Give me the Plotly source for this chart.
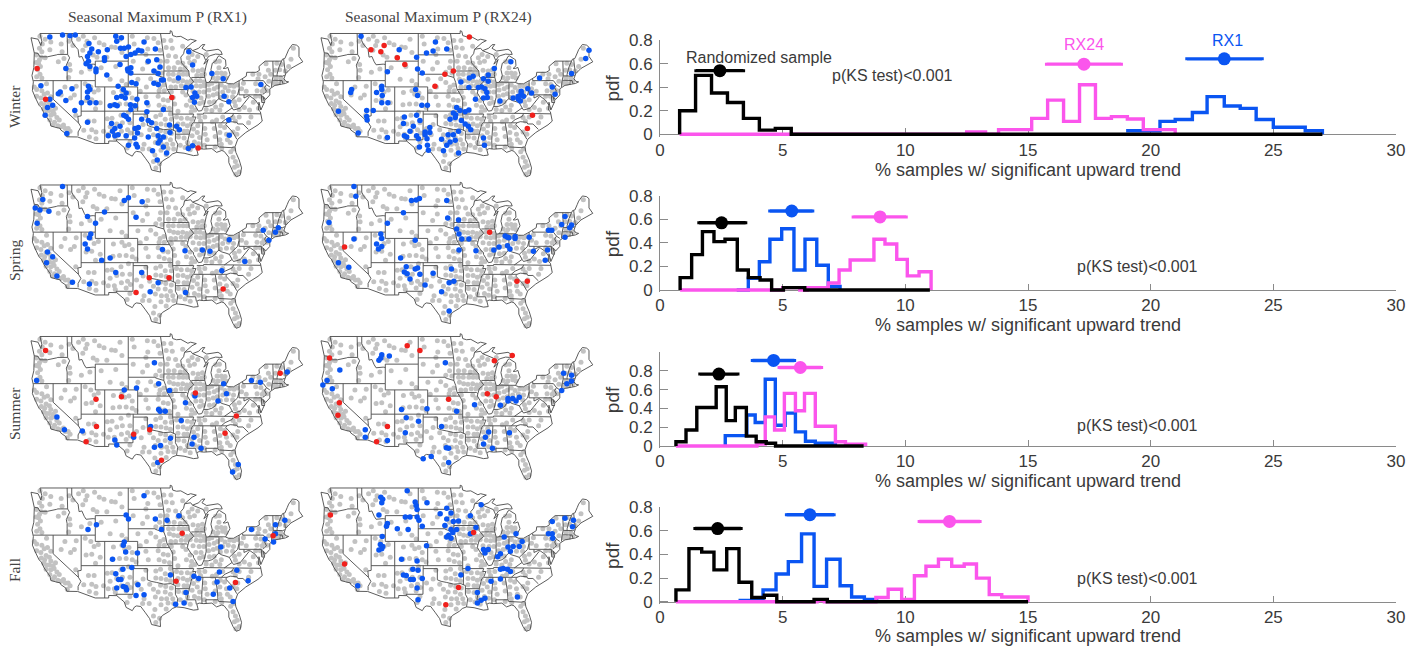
import math
import plotly.graph_objects as go

W, H = 1418, 646
seasons = ["Winter", "Spring", "Summer", "Fall"]
map_titles = ["Seasonal Maximum P (RX1)", "Seasonal Maximum P (RX24)"]
x_title = "% samples w/ significant upward trend"
y_title = "pdf"
x_ticks = [0, 5, 10, 15, 20, 25, 30]
y_ticks = [0, 0.2, 0.4, 0.6, 0.8]
y_tick_labels = ["0", "0.2", "0.4", "0.6", "0.8"]

# ---- base map (lon, lat polylines) ----
us_outline = [(-124.7,48.4),(-123.2,48.2),(-122.6,47.3),(-122.4,47.9),(-122.8,49),(-95.15,49),(-95.15,49.38),(-94.8,49.3),(-94.6,48.7),(-93.8,48.55),(-92.9,48.6),(-92,48.3),(-91.4,48.05),(-90.8,48.2),(-89.6,48.0),(-90.5,47.7),(-92.1,46.75),(-90.8,46.9),(-90.4,46.55),(-89.1,46.9),(-88.4,47.4),(-87.8,47.45),(-88.4,46.9),(-87.4,46.5),(-85.0,46.75),(-84.4,46.5),(-84.1,46.0),(-84.7,46.0),(-85.5,46.05),(-86.5,45.85),(-87,45.7),(-87.6,45.1),(-88,44.55),(-87.4,44.9),(-87.1,45.25),(-87.5,44.4),(-87.9,43),(-87.8,42.5),(-87.5,41.7),(-87,41.7),(-86.5,42.1),(-86.2,42.8),(-86.5,43.7),(-86.2,44.7),(-85.5,45),(-85.0,45.7),(-84.7,45.78),(-83.4,45.2),(-83.3,44.3),(-83.9,43.9),(-83.4,43.9),(-82.9,44.05),(-82.45,43),(-82.9,42.4),(-83.1,42.1),(-83.4,41.7),(-82.7,41.5),(-81.7,41.5),(-80.5,42),(-79,42.7),(-78.9,43.3),(-76.9,43.3),(-76.2,43.6),(-76.3,44.2),(-75,45),(-71.5,45),(-71.3,45.3),(-70.8,45.4),(-70.3,46.2),(-70,46.7),(-69.2,47.45),(-68.3,47.35),(-67.8,47.05),(-67.8,45.7),(-67,44.9),(-68.5,44.3),(-69.5,43.9),(-70.6,43.1),(-70.8,42.6),(-71,42.3),(-70.6,41.9),(-70,41.8),(-70.7,41.55),(-71.5,41.4),(-72.9,41.25),(-74,40.7),(-74,39.7),(-74.9,38.95),(-75.5,39.5),(-75.1,38.6),(-75.9,37.2),(-76.3,38.5),(-76.4,37.2),(-76,36.9),(-75.6,35.3),(-76.5,34.65),(-77.9,33.9),(-79.1,33.3),(-80.8,32.1),(-81.4,30.7),(-81.2,29.7),(-80.5,28.3),(-80.0,26.8),(-80.3,25.4),(-81.1,25.1),(-81.8,26),(-82.7,27.8),(-82.7,28.8),(-83.7,29.9),(-84.2,30.05),(-85.3,29.7),(-86.3,30.4),(-88,30.3),(-89,30.4),(-89.5,30.2),(-89.4,29.8),(-89.2,29.2),(-90.2,29.1),(-91.3,29.4),(-92.2,29.55),(-93.8,29.7),(-94.7,29.4),(-95.3,28.9),(-96.8,28.1),(-97.3,27.5),(-97.2,26),(-99.1,26.4),(-99.5,27.5),(-100.4,28.6),(-101.4,29.77),(-102.3,29.88),(-102.7,29.7),(-103.2,29),(-104.5,29.6),(-104.9,30.6),(-106.5,31.75),(-108.2,31.78),(-108.2,31.33),(-111.07,31.33),(-114.8,32.5),(-117.1,32.53),(-117.3,33.1),(-118.4,33.75),(-118.5,34.03),(-119.2,34.15),(-120.5,34.45),(-120.65,35.15),(-121.9,36.6),(-122.5,37.6),(-123,38),(-123.8,39.3),(-124.4,40.4),(-124.2,41.8),(-124.5,42.8),(-124.1,44),(-124,46.2),(-124.7,48.4)]
state_borders = [
 [(-124,46.25),(-123.2,46.15),(-122.8,45.65),(-121.2,45.65),(-119.3,45.93),(-119,46),(-116.92,46)],
 [(-117.03,49),(-117.04,46.42),(-116.92,46),(-116.5,45.5),(-117.2,44.4),(-117.03,43.8),(-117.03,42)],
 [(-124.2,42),(-111.05,42)],
 [(-120,42),(-120,39),(-114.63,35),(-114.1,34.3),(-114.7,33.4),(-114.7,32.7)],
 [(-114.63,35),(-114.75,36.1),(-114.05,36.2)],
 [(-114.05,42),(-114.05,36.2)],
 [(-114.05,37),(-94.62,37)],
 [(-116.05,49),(-116.05,48),(-115.7,47.5),(-114.7,46.7),(-114.5,45.6),(-113.9,45.7),(-113.4,44.9),(-113,44.45),(-111.5,44.55),(-111.05,44.5)],
 [(-111.05,42),(-111.05,45),(-104.05,45),(-104.05,41),(-111.05,41),(-111.05,42)],
 [(-109.05,41),(-109.05,31.33)],
 [(-104.05,41),(-102.05,41),(-102.05,37)],
 [(-103,37),(-103.05,32),(-106.6,32),(-106.5,31.75)],
 [(-103,36.5),(-100,36.5),(-100,34.56),(-99.2,34.3),(-98,34.1),(-96.5,33.8),(-95,33.9),(-94.48,33.64),(-94.04,33.55),(-94.04,32),(-93.55,31.2),(-93.7,30.3),(-93.8,29.7)],
 [(-94.62,37),(-94.62,36.5),(-94.43,35.4),(-94.48,33.64)],
 [(-94.04,33),(-91.15,33)],
 [(-94.62,36.5),(-90.15,36.5),(-90.37,36),(-89.7,36)],
 [(-94.62,37),(-94.62,39.1),(-95.3,40),(-95.85,40.7),(-96.1,41.7),(-96.5,42.5),(-97.9,42.8),(-98.5,43),(-104.05,43)],
 [(-102.05,40),(-95.3,40)],
 [(-95.77,40.58),(-91.7,40.6),(-91.4,40.4)],
 [(-96.5,42.5),(-96.45,43.5),(-96.45,45.3),(-96.56,45.94),(-97.2,49)],
 [(-96.45,43.5),(-91.2,43.5)],
 [(-104.05,45.94),(-96.56,45.94)],
 [(-104.05,49),(-104.05,45)],
 [(-92.1,46.75),(-92.3,46.1),(-92.9,45.6),(-92.75,44.75),(-91.2,43.5),(-91.1,42.7),(-90.15,41.8),(-91.1,41.2),(-91.4,40.4),(-91.5,40),(-90.7,39),(-90.2,38.7),(-90.2,38.4),(-89.5,37.3),(-89.15,37),(-88.45,37.1),(-88.05,37.8),(-87.1,37.8),(-86.3,38),(-85.7,38.3),(-85.4,38.7),(-84.8,39.1),(-84.2,38.8),(-83.3,38.6),(-82.6,38.4),(-81.8,39),(-81.2,39.4),(-80.85,39.7),(-80.52,40.64),(-80.52,42)],
 [(-90.65,42.5),(-87.8,42.5)],
 [(-90.4,46.55),(-88.1,45.9),(-87.6,45.1)],
 [(-87.52,41.7),(-87.52,39.3),(-87.95,38),(-88.05,37.8)],
 [(-84.8,39.1),(-84.8,41.7)],
 [(-87,41.76),(-84.8,41.76),(-83.4,41.73)],
 [(-79.76,42.27),(-79.76,42),(-75.35,42),(-74.7,41.36),(-75.1,40.9),(-74.7,40.3),(-75.1,40),(-75.5,39.8)],
 [(-74.7,41.36),(-74,41)],
 [(-80.52,40.64),(-80.52,39.72),(-75.79,39.72),(-75.7,38.46),(-75.05,38.46)],
 [(-82.6,38.4),(-82,37.55),(-83.68,36.6)],
 [(-89.5,36.5),(-88.07,36.5),(-88.05,36.68),(-83.68,36.6),(-81.68,36.59),(-75.9,36.55)],
 [(-89.7,36),(-90.1,35.1),(-90.6,34.7),(-91.15,33),(-91.5,31.5),(-91.6,31),(-89.75,31),(-89.6,30.2)],
 [(-90.1,35),(-84.3,35),(-83.5,35.55),(-82,36.1),(-81.68,36.59)],
 [(-88.2,35),(-88.45,31.9),(-88.4,30.3)],
 [(-85.6,35),(-85.15,32.8),(-85,31),(-84.86,30.7),(-82.2,30.57),(-81.5,30.7)],
 [(-87.6,31),(-85,31)],
 [(-87.6,31),(-87.5,30.3)],
 [(-84.3,35),(-83.1,35),(-83.35,34.7),(-81.9,33.4),(-81,32.1)],
 [(-83.1,35),(-82.4,35.2),(-81,35.1),(-80.8,34.8),(-79.7,34.8),(-78.55,33.85)],
 [(-82,37.55),(-81.7,37.2),(-80.3,37.5),(-79.3,38.4),(-78.35,39.4)],
 [(-79.48,39.72),(-79.48,39.2),(-78.4,39.6),(-77.8,39.3),(-77.1,38.9),(-76.3,38)],
 [(-73.35,45),(-73.25,43.6),(-73.27,42.75),(-73.5,42.05),(-73.5,41.3),(-73.65,41)],
 [(-71.5,45),(-72.05,44.1),(-72.45,43),(-72.45,42.73)],
 [(-73.27,42.75),(-71.3,42.7),(-70.8,42.85)],
 [(-73.5,42.05),(-71.8,42.02),(-71.4,42.02),(-71.2,41.5)],
 [(-71.8,42.02),(-71.85,41.3)],
 [(-71.05,45.3),(-70.7,43.1)],
]

# ---- stations (lon, lat) ----
gray_sites = [(-122.8,48.6),(-121.7,48.2),(-120.5,47.8),(-118.3,47.5),(-122.3,47.5),(-122.9,46.9),(-122.4,46.4),(-120.7,46.7),(-118.1,46.4),(-123.5,45.9),(-122.9,45.2),(-123.1,44.7),(-122.7,44.2),(-123.3,43.7),(-122.8,43),(-123.5,42.6),(-122.4,42.4),(-121.7,45.5),(-118.9,44.9),(-117.7,45.4),(-123.6,44.8),(-122.5,45.6),
(-116.6,47.9),(-115.8,47.3),(-114.6,48.2),(-113.6,48.6),(-112.8,47.9),(-113.1,47.3),(-111.2,48.4),(-110.2,47.7),(-109.2,47.4),(-107.6,47.1),(-106.8,47),(-113.7,46.6),(-111.5,45.9),(-110.7,45.6),(-108.6,45.6),(-105.4,46.3),(-105.8,48.2),(-116.5,44.5),(-116.4,43.6),(-114,43.3),(-112.2,43.8),(-116.7,42.5),
(-109.8,44),(-106.7,44.2),(-107.9,42.2),(-105.4,42),(-104.5,41.4),(-107.2,40.1),(-105.4,40.4),(-104.8,39.8),(-103.9,40),(-103.2,39.2),(-107.3,38.1),(-105.9,38.2),(-104.5,38.2),(-103.2,38),(-102.4,37.6),
(-103.2,48.6),(-100,48.4),(-98.6,48.3),(-97.7,47.7),(-102.8,47.5),(-99.9,46.8),(-97.3,46.6),(-100.3,46),(-103,45),(-100,44.8),(-97.2,45),(-101,43.8),(-97.4,44),(-96.9,43.2),(-98.2,43.3),(-102,42.2),(-99.3,42.3),(-98.2,41.7),(-97.3,41),(-96.5,41.3),(-100.2,41),(-97.5,40.4),(-96.4,40.4),(-101.5,40.3),
(-100.3,39.4),(-97.7,39.5),(-96.6,38.9),(-95.6,38.8),(-99.8,38),(-97.5,38),(-96.4,37.7),(-95.3,37.5),(-100.3,36.2),(-98.2,36.1),(-97.2,36.4),(-96.2,35.6),(-95.1,36.5),(-98.2,34.9),(-97.1,34.8),(-96,34.6),(-95.1,34.4),(-94.9,35.6),
(-100.9,34.7),(-102.3,34),(-99.5,33.8),(-97.2,33.6),(-96.1,33.4),(-94.9,33.1),(-101.3,32.9),(-98.7,32.9),(-97.7,32.4),(-96.2,32.4),(-95.1,32),(-103.7,31.6),(-100.7,31.2),(-98.3,31.5),(-97,31.2),(-95.9,31.2),(-94.6,31.2),(-104.3,30.5),(-101,30.3),(-99.6,30.3),(-97.1,30.1),(-95.6,30.4),(-94.4,30.3),(-98.4,29.2),(-96,29.3),(-98.7,28),(-97.4,27.6),(-98.2,26.8),
(-124,41),(-123.5,40.6),(-122.4,40.4),(-121.4,41.5),(-123.5,39.5),(-122.6,39.2),(-121.9,39.8),(-121.2,40),(-120.5,39.4),(-122.5,38.3),(-121.8,38),(-121.5,38.7),(-120.8,38.4),(-120.5,37.8),(-122,37.4),(-121.4,37.1),(-120.8,37.1),(-120,37),(-119.5,37.5),(-121.5,36.4),(-120.5,36.3),(-119.8,36.5),(-119.2,35.9),(-120.7,35.5),(-119.7,35.1),(-118.7,35.5),(-120,34.7),(-119,34.5),(-118.3,34.3),(-117.8,34.6),(-117.4,34),(-116.8,34),(-116.4,33.5),(-117,32.9),(-118.3,39.7),(-116.3,39.2),(-115.5,39.7),(-117.5,41),(-115.1,41.1),(-115.2,36.3),(-113.2,41.5),(-112,41),(-111.3,40.2),(-110.4,40.5),(-113,38.8),(-111.8,38.9),(-110,38.4),(-111,37.4),(-112.5,35.3),(-111.3,35.3),(-113.5,33.7),(-111.8,33.8),(-110.9,33.4),(-112.3,32.5),(-110.9,32.2),(-109.3,33.5),(-108.5,35.7),(-107.5,35.8),(-105.6,36.3),(-104,36.8),(-103.7,35),(-107.9,34.3),(-106.5,34.8),(-105.3,35),(-108.3,33),(-107,33),(-105.5,33.5),(-104.2,33.8),(-106.8,32.3),(-104.5,32.6),(-103.6,33.2),
(-96.5,48),(-95,48),(-96,47),(-94.7,46.9),(-92.5,47.2),(-95.5,45.8),(-94,45.7),(-95.8,45),(-93.5,44.8),(-92.5,44.7),(-95.5,44),(-94.3,44),(-93,43.8),(-92,44),(-91.3,45.5),(-90.5,46),(-91,44.8),(-90,45),(-89.3,45.7),(-90.3,43.6),(-89.2,43.5),(-88.3,43.7),(-89.5,42.8),(-88.5,42.9),(-87.9,43),(-87.5,46),(-85.5,44.9),(-84.7,45),(-84.8,44),(-85.2,43.2),(-84.3,43.2),(-83.5,43.1),(-86,42.5),(-85,42.4),(-84,42.6),(-83.3,42.4),(-85.4,41.9),
(-95.5,43),(-94.5,43),(-93.3,43),(-92.4,43),(-91.6,43),(-95.3,42.2),(-94.4,42),(-93.5,41.9),(-92.5,42),(-91.6,41.8),(-90.7,42),(-95,41),(-94,41),(-92.8,41.2),(-91.8,41.2),(-90.9,41.3),(-94.9,40.2),(-92.5,40.2),(-94.5,39.3),(-91.8,39.7),(-90.9,38.8),(-94.2,38.2),(-91.7,38),(-90.6,37.7),(-93.5,37),(-90.7,36.9),(-89.9,37.2),(-89.7,42),(-88.8,42),(-88,41.8),(-89.6,41.2),(-88.7,41.1),(-87.9,41.2),(-90.3,40.3),(-89,40.2),(-88,40.2),(-89.7,39.2),(-88.6,39.2),(-88.9,38.3),(-88.1,38.5),(-87,41.4),(-86.3,41.6),(-86.9,40.5),(-85.8,40.7),(-85.1,41),(-87,39.5),(-86,39.7),(-85.2,39.9),(-86.8,38.5),(-85.8,38.6),(-84.3,41.3),(-83.5,40.9),(-82.5,41.2),(-81.6,41.1),(-80.9,41.3),(-84,40.2),(-82.8,40.4),(-81.7,40.2),(-84.5,39.3),(-83.2,39.4),(-81.9,39.4),
(-69,46.9),(-69.5,45.3),(-70,44.2),(-71.5,44.5),(-70.7,43.5),(-72.5,44.7),(-72.8,43.6),(-71.9,43.7),(-71.7,42.4),(-72.7,42.4),(-71.2,42),(-72.5,41.6),(-73.2,41.6),(-74.8,44.6),(-74.3,43.6),(-73.8,43),(-76.3,43),(-77.6,43),(-75,42.6),(-76.5,42.3),(-74.2,41.9),(-79.6,41.6),(-77,41.5),(-75.9,41.4),(-75.2,40.8),(-80,40.7),(-79,40.3),(-76.7,40.4),(-75.6,40.3),(-74.6,40.4),(-77,39.5),(-76,39.5),(-75.4,39),
(-81.5,38.6),(-80.5,38.9),(-81.3,37.9),(-80.5,37.3),(-79.4,37.6),(-77.5,38.5),(-78.3,37.2),(-76.4,37.5),(-85.5,37.7),(-84.3,38),(-87.5,37.3),(-86.3,37.1),(-84.6,37.2),(-89,36),(-87.8,36),(-85.3,35.5),(-84,36),(-88.7,35.3),(-86.2,35.2),(-81.8,35.9),(-80.5,36),(-78,36),(-81.3,35.3),(-78.5,35),(-93.8,36),(-92.8,35.8),(-91.5,35.8),(-90.6,35.6),(-93.5,34.8),(-92.4,34.8),(-91.5,34.5),(-90.7,34.8),(-93.5,33.7),(-92.2,33.5),(-91.5,33.5),(-93.4,32.5),(-92.2,32.3),(-91.5,31.5),(-93,31),(-92,30.6),(-90.9,30.2),(-90.2,33.9),(-89.3,34.5),(-90.5,32.7),(-89.4,33.3),(-88.9,32.4),(-90,31.6),(-89.1,31.3),(-87.8,34),(-85.8,34),(-87.7,33),(-85.6,32.6),(-87.3,32),(-87.9,31),(-84.5,34.5),(-83.6,34.2),(-84.6,33.3),(-83.2,33),(-84.6,32),(-83,32),(-84.3,31.2),(-82.4,31.5),(-81.8,33.4),(-80.8,34),(-81,33),(-85.6,30.7),(-84.2,30.5),(-82.3,29.8),(-81.7,30.3),(-81.8,28.8),(-81.3,28),(-80.9,27.2),(-81.5,26.9),(-80.5,26),(-81.2,25.6)]

winter_rx1_up = [(-120.7,48.5),(-118,48.8),(-116.4,48.7),(-115.3,48.8),(-112.4,47.6),(-106.7,48.6),(-106.5,47.9),(-105.5,48.4),(-100.7,47.8),(-111.8,46.8),(-112.2,46.2),(-110.4,46.4),(-108.5,46.7),(-105.7,46.9),(-104.9,46.9),(-104,47.1),(-98.3,46.8),(-101.9,46.6),(-101.2,46.5),(-102.6,46.2),(-103.5,46),(-104.5,45.7),(-112.7,45.7),(-112.5,45),(-113,44.6),(-112.2,44.2),(-117.3,43.9),(-109.1,45.5),(-109.1,45.1),(-105.8,44.5),(-110.9,43.8),(-110.9,43.4),(-108.6,42.9),(-104.2,43.8),(-103.5,44),(-103.5,43.2),(-104.1,43.5),(-99.8,45),(-98,45.2),(-97.3,44.1),(-98.6,43.5),(-97.7,43.1),(-97,42.1),(-103.3,41.7),(-102.4,41.5),(-98.6,41.6),(-97.7,41.4),(-96.6,42.1),(-93.4,42.4),(-91.2,46.4),(-90.4,44.4),(-86.3,43.1),(-83.9,42.3),(-75.9,41.4),(-91.8,40.9),(-90.7,41),(-89.9,40),(-90.4,39.3),(-89.5,39.5),(-90,38.5),(-122.6,41.2),(-118.5,40.2),(-118.9,39.9),(-116,40.7),(-112.5,41.1),(-112.2,40.6),(-112.7,40.2),(-112.7,39.3),(-112.2,38.4),(-110.9,38.4),(-114,38.4),(-117.3,38.8),(-115.4,37.1),(-120.7,39),(-120.1,38),(-121.2,37.6),(-121.7,36.3),(-117.1,33.1),(-112.7,35.1),(-106.2,41.1),(-105.1,40.6),(-104.5,40),(-105.5,39.5),(-104.7,39.2),(-106.5,39.3),(-107.9,37.9),(-106.9,38.1),(-106.4,37.9),(-103.6,38.1),(-103.5,37.3),(-102.6,37.9),(-102.2,39),(-100.1,38.4),(-100.1,36.9),(-96.6,37.3),(-105,36.3),(-104.5,36.1),(-104,35.6),(-107.6,34.9),(-105.8,34.4),(-106.9,34),(-107.4,33.5),(-108.3,32.7),(-106.9,32.7),(-106.2,32.9),(-104.5,32.7),(-102.6,34),(-101.9,34.2),(-102.1,33.2),(-102.7,32.3),(-104,31),(-102.4,31.2),(-102.1,30.7),(-101.2,35.6),(-99.8,35.4),(-99.1,35),(-98,34),(-95.3,34.6),(-93.8,34.4),(-93.2,33.8),(-95.2,33.3),(-97.7,32.7),(-96.6,32.5),(-97.3,31.9),(-97.7,31.4),(-99.8,32.5),(-96.6,30.7),(-98.9,30),(-95.9,29.6),(-97.9,28.3),(-91.3,30.4),(-90.4,30.9),(-83.7,39.5),(-82.7,38.6),(-82.7,35.5),(-82.6,32.8)]
winter_rx1_down = [(-123.4,43.9),(-121.6,39),(-94.8,39.3),(-89.2,30.5)]
winter_rx24_up = [(-116.2,48.6),(-100.4,47.8),(-100.9,46.5),(-102.3,46.2),(-98,46.8),(-108.1,46.7),(-104.4,45.6),(-110.6,43.4),(-104.2,43.8),(-103.2,43.2),(-67.8,46.6),(-68.5,45.4),(-84.4,44.9),(-87.9,43.9),(-89.2,42.9),(-90.2,42.3),(-92.4,42.7),(-93.2,42.4),(-95,41.8),(-89.2,41.9),(-71.5,43.1),(-78.3,42.4),(-75.6,41),(-80.8,40.7),(-82.2,40.3),(-80,40),(-82.2,39.9),(-82.8,39.5),(-83.9,39.2),(-81.7,39.5),(-82.8,39),(-82.4,38.7),(-75,39.8),(-86.7,38.7),(-91.3,40.9),(-90.6,41),(-89.9,40.7),(-93.3,40.9),(-89.5,40.1),(-90.2,39.2),(-89.4,39.3),(-91.9,39),(-111.8,41.1),(-111.8,40.6),(-112.9,40.1),(-111.7,39.6),(-111.8,38.4),(-110.5,38.4),(-118.2,40.6),(-118.4,40.1),(-104.6,40.6),(-104.2,39.6),(-103.3,38),(-102.1,38),(-121,37),(-115,37.1),(-113.6,37.1),(-115,36.1),(-114.9,35.5),(-116.8,33.2),(-110.6,32.4),(-107,36),(-107.2,34.9),(-104.4,36.3),(-103.7,35.4),(-105.1,34.4),(-105.8,33.5),(-107,32.7),(-106.5,32.5),(-104.4,32.7),(-104,32.2),(-103.8,30.7),(-102.6,33.4),(-102.6,32.9),(-101.6,34.2),(-101.6,33.3),(-102.2,32.2),(-102.1,31),(-101.9,30.1),(-95.9,37.6),(-96.6,36.7),(-96.1,36.4),(-95.2,37.1),(-94.1,36.9),(-93.3,37.2),(-97.3,35.6),(-96.2,35.9),(-94.9,35.4),(-94.1,34.8),(-93.4,34.4),(-92.9,33.8),(-95.5,33.5),(-97.7,32.9),(-96.6,32.9),(-99.1,32.1),(-97.3,31.6),(-98,31),(-96.2,31.9),(-98.7,30),(-95.5,29.6),(-90.2,32.3),(-90,31)]
winter_rx24_down = [(-114.1,46.7),(-112,46.4),(-111.3,47.3),(-108.5,45.5),(-106.9,44.5),(-98.4,43),(-96.6,43.5),(-100.5,41.1),(-93.2,48.5),(-79.8,36.3),(-80.9,34)]
spring_rx1_up = [(-118,48.8),(-122.2,46.95),(-123.8,45.7),(-122.8,45.4),(-120.9,45.2),(-123.4,43.4),(-112.7,44.4),(-109.1,45.1),(-111,43.4),(-104.9,46.8),(-104,47.2),(-101.1,46.6),(-102.4,44.3),(-112,41.7),(-112.3,41.1),(-113.2,40.1),(-112.7,39.3),(-121.2,38.8),(-120.1,38),(-121.4,37),(-119.2,34.7),(-115.9,33.6),(-112.3,33.3),(-109.7,37.4),(-107.9,37.8),(-106.7,35.3),(-101.2,35.3),(-96.8,39.2),(-92,39),(-88.3,39.1),(-86.7,38.9),(-82.6,40.8),(-79.3,37.2),(-84.2,35.6),(-97.7,33.5),(-99.4,31.9),(-91.9,31.8),(-75.4,42.3),(-72.2,42.7),(-72.8,42),(-74.2,40.7)]
spring_rx1_down = [(-99.6,34.4),(-95.4,34.4),(-102.4,31.8),(-83.9,32.4)]
spring_rx24_up = [(-117.7,48.8),(-117.3,47.4),(-123,43.5),(-110.6,43.4),(-107.2,45),(-105.5,46.8),(-104.5,46.85),(-103.8,47.1),(-98,46.8),(-97.8,44.2),(-95.5,43.9),(-95.9,42.5),(-112,41.7),(-111.8,41),(-117.7,40.9),(-112.9,40.1),(-111.8,39.7),(-112.5,39.3),(-121,37),(-118.8,36.2),(-104.7,40.7),(-107.8,37.8),(-106.6,36.3),(-107,35.4),(-106.4,35.1),(-104.7,35.9),(-104.2,36.1),(-103.7,35),(-105.8,34.2),(-102.6,33.1),(-100.9,35.2),(-97,35.9),(-97.5,33.5),(-96.5,33.8),(-99.1,31.9),(-97.5,28.4),(-95.4,41.7),(-94.8,40.9),(-93.3,40.9),(-95.4,39.1),(-91.8,39),(-88,39.1),(-86.9,39.6),(-85.1,39.8),(-84.6,39.3),(-85.6,41.4),(-85.1,41.2),(-84.8,41.1),(-83.5,41.3),(-83.5,41),(-80.5,41.2),(-76.4,42.3),(-75.7,42.3),(-79.6,38.9),(-77.1,37.4),(-76.6,39.1),(-73.6,43.2),(-72.9,44.4),(-71.5,43.1),(-71.9,42.7),(-72.9,41.2)]
spring_rx24_down = [(-119.7,39.6),(-88.9,42),(-83.1,33.8),(-80.9,33.8)]
summer_rx1_up = [(-123.5,42.5),(-98.5,45.2),(-97.6,42),(-102.3,41.3),(-104.9,41),(-95.3,40.9),(-91.9,38.9),(-89.9,40),(-97.6,37.8),(-97.3,37.5),(-96.2,37.5),(-92.8,35.9),(-99.3,34.9),(-119.2,36.5),(-117.6,34.3),(-113.8,34.1),(-106.9,32.5),(-106.5,31.6),(-102.9,33),(-95.1,32.8),(-98.5,31.2),(-97.2,31.5),(-97.8,28.4),(-90.1,33),(-90.5,31.8),(-88.6,31),(-83.8,42),(-83.2,40.4),(-85,39.2),(-77.9,42.5),(-76,42.2),(-70.3,43.8),(-81.9,26.6),(-80.7,28)]
summer_rx1_down = [(-121.6,47),(-110.9,39.5),(-105.5,39.9),(-110.8,34.9),(-113,32.2),(-102.9,33.5),(-99.5,34.3),(-97,28.8),(-89.8,40.5),(-81.1,36.7),(-83.5,33.7),(-71.8,43.6)]
summer_rx24_up = [(-111.8,46.4),(-112,45.9),(-112.4,45.6),(-110.2,46.2),(-120.7,44.1),(-123.4,42.5),(-124.3,41.8),(-122.3,41.2),(-98.3,45.2),(-107.6,37.8),(-102.2,37.9),(-106.6,36.4),(-104,35.8),(-106.8,33.8),(-115.3,34.3),(-115.3,33),(-110.6,32.4),(-99.1,34.9),(-95.9,37.5),(-92.1,38.6),(-98.1,31.1),(-97.6,31),(-101.3,29.5),(-103,29.1),(-97.6,28.4),(-89.8,33),(-89.1,33.9),(-90.2,31.8),(-88.3,31),(-84.7,33.8),(-86.6,38.5),(-85,39.2),(-85,39.6),(-84,39.6),(-83.3,39.2),(-82.6,39.8),(-73.2,43.6),(-71.5,43.3),(-72.5,42),(-71.5,42.4),(-73.6,40.9)]
summer_rx24_down = [(-106.4,47.7),(-103.7,47),(-122.9,45.9),(-120.8,38.9),(-121.1,36.8),(-110.6,34.9),(-112.9,32.2),(-97.6,39.5),(-89.4,40.4),(-87.5,39.9),(-87.9,45.5),(-84.1,46.3)]
fall_rx1_up = [(-100.7,47.9),(-93.3,45),(-95.8,44.3),(-98.3,44.5),(-104.5,45.1),(-104,44.5),(-110.8,43.6),(-112.6,42.9),(-97,42.9),(-104.9,40.9),(-105.1,40.4),(-104.6,39.3),(-102.1,39.1),(-107.4,38.1),(-77.9,42.9),(-72.8,43.6),(-70.8,44.3),(-72.8,42.2),(-75,41.4),(-73.2,40.9),(-84.4,40.1),(-103.3,36.7),(-105.2,36.4),(-106.7,35.6),(-106.1,34.6),(-105.6,34.6),(-105.1,33.4),(-102,33.7),(-106.5,33.1),(-104.6,33.2),(-104.4,32.8),(-102.4,31.8),(-100.7,31.9),(-95.1,35.4),(-90.1,35.2),(-89.1,34.8),(-84.7,35.9),(-81,36.2),(-85.2,34.2),(-82.5,33.1),(-86,32),(-78.6,34.4),(-81.8,30.7),(-91.8,32.3),(-92.2,30.4),(-94,30.2)]
fall_rx1_down = [(-92.6,42.3),(-93.9,34.3),(-81.3,34.1),(-73.3,41.9)]
fall_rx24_up = [(-106.4,48.6),(-112,47.7),(-111.6,47.4),(-111.8,46.9),(-104.7,47),(-104.5,46.5),(-104.3,45.9),(-102.2,46.9),(-98,46.1),(-99.4,45.3),(-97.1,45.4),(-98,44.5),(-96.6,44.1),(-95.5,44.2),(-93,45),(-90.7,46.6),(-112.4,45.1),(-106.8,44.8),(-105.8,44.8),(-104.3,44.8),(-103.9,44.3),(-103.2,43.4),(-110.6,43.8),(-110.8,43.4),(-108.5,43),(-106.2,42.9),(-98.4,43.5),(-97.1,42.9),(-95.9,42.9),(-96.7,42.4),(-97.6,42),(-98,41.7),(-97.1,41.5),(-93,42.2),(-91.8,43.2),(-111.7,41.8),(-112.1,40.5),(-111.6,40.2),(-111.8,39.8),(-112.4,39.6),(-102.3,40.3),(-107.6,38.1),(-104.3,37.8),(-105.2,36.4),(-104.1,36.2),(-107.2,35.4),(-106.6,35.3),(-105.7,34.6),(-105.1,34.6),(-103.2,34.8),(-104.3,33.1),(-104.1,31),(-116.9,33.5),(-95,35.4),(-93.5,36.5),(-90.2,39.7),(-89.9,39.1),(-89.2,39.7),(-86.6,39),(-85,40.1),(-83.9,40.2),(-82.6,40.2),(-82,41),(-83.3,42.2),(-85.8,41.7),(-87.2,38.5),(-84.5,39.4),(-86.6,36.4),(-86,36.5),(-85.1,36.4),(-84.5,36),(-88.6,34.3),(-86.6,34.7),(-83,31.5),(-91.5,32.3),(-91.5,30.4),(-90.7,30.9),(-89.9,31.3),(-76.4,42.2),(-75.6,42.2),(-75.5,41.5),(-75.6,44.1),(-72.9,44.6),(-71.1,44.3),(-71.3,43.3)]
fall_rx24_down = [(-122.7,45.1),(-119.7,37.3),(-95.5,33.2),(-98.2,30.1),(-92.3,42.4)]

map_panels = [
 [(winter_rx1_up, winter_rx1_down), (winter_rx24_up, winter_rx24_down)],
 [(spring_rx1_up, spring_rx1_down), (spring_rx24_up, spring_rx24_down)],
 [(summer_rx1_up, summer_rx1_down), (summer_rx24_up, summer_rx24_down)],
 [(fall_rx1_up, fall_rx1_down), (fall_rx24_up, fall_rx24_down)],
]

# ---- histograms: bin left edges, pdf of that bin ----
winter_rand_x = [0.8,0.8,1.45,2.1,2.75,3.4,4.05,4.7,5.35,27]
winter_rand_y = [0,0.2,0.5,0.35,0.27,0.135,0.035,0.05,0,0]
winter_rx1_x = [19,20.38,21,21.7,22.3,23,23.65,24.3,25,26.3,27,27]
winter_rx1_y = [0.03,0.11,0.125,0.185,0.32,0.24,0.22,0.125,0.06,0.03,0,0]
winter_rx24_x = [0.8,12.5,13.27,13.8,15.15,15.8,16.45,17.1,17.75,18.4,19.05,19.7,20.35,21,21]
winter_rx24_y = [0,0.02,0,0.04,0.135,0.29,0.11,0.42,0.135,0.15,0.13,0.04,0.04,0,0]
spring_rand_x = [0.82,0.82,1.29,1.73,2.2,2.65,3.15,3.6,4.08,4.55,5.03,5.9,11]
spring_rand_y = [0,0.105,0.3,0.495,0.41,0.43,0.17,0.105,0.085,0,0.02,0,0]
spring_rx1_x = [3.125,3.6,4.05,4.48,4.96,5.46,5.91,6.39,6.86,7.34,7.34]
spring_rx1_y = [0,0.1,0.24,0.43,0.52,0.17,0.43,0.21,0.03,0,0]
spring_rx24_x = [0.82,5,5.7,6,6.86,7.3,7.75,8.72,9.17,9.65,10.08,10.56,11.05,11.05]
spring_rx24_y = [0,0.02,0,0.02,0.06,0.17,0.255,0.43,0.39,0.26,0.12,0.155,0,0]
summer_rand_x = [0.65,0.65,1.06,1.5,2.29,2.7,3.07,3.52,3.92,4.33,4.71,8.3]
summer_rand_y = [0,0.045,0.17,0.41,0.63,0.27,0.41,0.105,0.045,0.03,0,0]
summer_rx1_x = [2.66,2.66,3.54,3.88,4.29,4.7,5.1,5.52,5.93,6.33,7.15,7.15]
summer_rx1_y = [0,0.11,0.33,0.25,0.71,0.22,0.35,0.15,0.05,0.03,0,0]
summer_rx24_x = [0.65,3.95,4.29,4.67,5.07,5.52,5.89,6.33,7.15,7.56,8.38,8.38]
summer_rx24_y = [0,0.02,0.31,0.17,0.56,0.375,0.56,0.21,0.045,0.02,0,0]
fall_rand_x = [0.65,0.65,1.18,1.7,2.2,2.72,3.22,3.74,4.25,4.76,6.28,6.82,15]
fall_rand_y = [0,0.1,0.45,0.42,0.27,0.45,0.165,0.035,0.055,0,0.02,0,0]
fall_rx1_x = [3.2,4.2,4.73,5.23,5.77,6.28,6.79,7.34,7.81,8.33,8.83,8.83]
fall_rx1_y = [0.01,0.1,0.235,0.34,0.575,0.13,0.36,0.135,0.04,0.02,0,0]
fall_rx24_x = [0.65,6.4,6.7,8.8,9.3,9.85,10.37,10.84,11.35,11.89,12.4,12.9,13.42,13.93,15,15]
fall_rx24_y = [0,0.01,0,0.035,0.105,0.02,0.22,0.3,0.36,0.3,0.32,0.2,0.06,0.04,0,0]

hist_series = [
 [(winter_rx1_x, winter_rx1_y), (winter_rx24_x, winter_rx24_y), (winter_rand_x, winter_rand_y)],
 [(spring_rx1_x, spring_rx1_y), (spring_rx24_x, spring_rx24_y), (spring_rand_x, spring_rand_y)],
 [(summer_rx1_x, summer_rx1_y), (summer_rx24_x, summer_rx24_y), (summer_rand_x, summer_rand_y)],
 [(fall_rx1_x, fall_rx1_y), (fall_rx24_x, fall_rx24_y), (fall_rand_x, fall_rand_y)],
]
# mean, low, high, height for RX1, RX24, randomized sample
mean_bars = [
 [(23.0,21.48,24.54,0.64),(17.28,15.76,18.8,0.595),(2.44,1.47,3.4,0.54)],
 [(5.37,4.48,6.22,0.67),(8.97,7.88,10.03,0.62),(2.51,1.59,3.49,0.57)],
 [(4.63,3.77,5.48,0.91),(5.72,4.86,6.58,0.835),(2.4,1.63,3.17,0.765)],
 [(6.11,5.16,7.09,0.737),(11.8,10.57,13.04,0.68),(2.35,1.43,3.3,0.62)],
]

BLUE = "#0a55f2"
MAGENTA = "#fb55ec"
BLACK = "#000000"
RED = "#f0201c"
GRAY = "#c2c2c2"
TXT = "#3a3a3a"
AXC = "#8a8a8a"
series_colors = [BLUE, MAGENTA, BLACK]

def merc(lat):
    return math.degrees(math.log(math.tan(math.pi / 4 + math.radians(lat) / 2)))

PX_PER_DEG = 4.71
LON0, LON1 = -126.0, -66.0
LAT0, LAT1 = 24.5, 49.7
row_tops = [33.5, 185.0, 336.5, 488.0]
col_coast = [31.0, 321.0]

fig = go.Figure()
layout = {}
ax_i = 0

def new_axes(x0, x1, y0, y1, x_position=None, **kw):
    global ax_i
    ax_i += 1
    s = "" if ax_i == 1 else str(ax_i)
    if x_position is None:
        layout["xaxis" + s] = dict(domain=[x0 / W, x1 / W], anchor="y" + s, **kw.get("x", {}))
    else:
        layout["xaxis" + s] = dict(domain=[x0 / W, x1 / W], anchor="free", position=x_position, **kw.get("x", {}))
    layout["yaxis" + s] = dict(domain=[1 - y1 / H, 1 - y0 / H], anchor="x" + s, **kw.get("y", {}))
    return "x" + s, "y" + s

line_lon, line_lat = [], []
for poly in [us_outline] + state_borders:
    line_lon += [p[0] for p in poly] + [None]
    line_lat += [merc(p[1]) for p in poly] + [None]

hidden = dict(visible=False, showgrid=False, zeroline=False, fixedrange=True)
for r in range(4):
    for c in range(2):
        left = col_coast[c] - (-124.7 - LON0) * PX_PER_DEG
        right = left + (LON1 - LON0) * PX_PER_DEG
        top = row_tops[r] - (merc(LAT1) - merc(49)) * PX_PER_DEG
        bottom = top + (merc(LAT1) - merc(LAT0)) * PX_PER_DEG
        xa, ya = new_axes(left, right, top, bottom,
                          x=dict(range=[LON0, LON1], **hidden),
                          y=dict(range=[merc(LAT0), merc(LAT1)], **hidden))
        fig.add_trace(go.Scatter(x=[p[0] for p in gray_sites], y=[merc(p[1]) for p in gray_sites],
                                 mode="markers", marker=dict(size=5, color=GRAY), xaxis=xa, yaxis=ya,
                                 showlegend=False, hoverinfo="skip"))
        fig.add_trace(go.Scatter(x=line_lon, y=line_lat, mode="lines",
                                 line=dict(color="#4a4a4a", width=0.9), xaxis=xa, yaxis=ya,
                                 showlegend=False, hoverinfo="skip"))
        up, down = map_panels[r][c]
        for pts, col in ((up, BLUE), (down, RED)):
            fig.add_trace(go.Scatter(x=[p[0] for p in pts], y=[merc(p[1]) for p in pts],
                                     mode="markers", marker=dict(size=5.5, color=col), xaxis=xa, yaxis=ya,
                                     showlegend=False))

hist_base = [134.3, 290.0, 446.0, 601.7]
hist_top = [40.0, 195.7, 352.0, 507.3]
hist_ymax = [0.8, 0.8, 1.0, 0.8]
Y_PAD = 0.02  # room under 0 so the thick baselines are not clipped by the plot area
for r in range(4):
    px_unit = (hist_base[r] - hist_top[r]) / hist_ymax[r]
    xa, ya = new_axes(660, 1396, hist_top[r], hist_base[r] + Y_PAD * px_unit,
        x_position=1 - hist_base[r] / H,
        x=dict(range=[0, 30], tickvals=x_ticks, ticks="inside", ticklen=6, tickcolor=AXC, showgrid=False,
               zeroline=False, showline=True, linecolor=AXC, linewidth=1, layer="below traces",
               tickfont=dict(family="Liberation Sans", size=17, color=TXT),
               title=dict(text=x_title, standoff=0, font=dict(family="Liberation Sans", size=18, color=TXT))),
        y=dict(range=[-Y_PAD, hist_ymax[r]], tickvals=y_ticks, ticktext=y_tick_labels, ticks="inside", ticklen=8,
               tickcolor=AXC, showgrid=False, zeroline=False, showline=True, linecolor=AXC, linewidth=1,
               ticklabelstandoff=3, layer="below traces",
               tickfont=dict(family="Liberation Sans", size=17, color=TXT),
               title=dict(text=y_title, standoff=4, font=dict(family="Liberation Sans", size=19, color=TXT))))
    for (xs, ys), col in zip(hist_series[r], series_colors):
        fig.add_trace(go.Scatter(x=xs, y=ys, mode="lines", line=dict(color=col, width=3.4, shape="hv"),
                                 xaxis=xa, yaxis=ya, showlegend=False, cliponaxis=False))
    for (m, lo, hi, h), col in zip(mean_bars[r], series_colors):
        fig.add_trace(go.Scatter(x=[m], y=[h], mode="markers", marker=dict(size=13, color=col),
                                 error_x=dict(type="data", symmetric=False, array=[hi - m], arrayminus=[m - lo],
                                              thickness=3.4, width=1.5, color=col),
                                 xaxis=xa, yaxis=ya, showlegend=False, cliponaxis=False))

def note(text, x, y, size=16, color=TXT, family="Liberation Sans", angle=0):
    return dict(text=text, x=x / W, y=1 - y / H, xref="paper", yref="paper", xanchor="center", yanchor="middle",
                showarrow=False, textangle=angle, font=dict(family=family, size=size, color=color))

anns = [note(map_titles[0], 157, 17, 15.5, "#444444", "Liberation Serif"),
        note(map_titles[1], 438, 17, 15.5, "#444444", "Liberation Serif")]
for s, y in zip(seasons, [107, 260, 414, 570]):
    anns.append(note(s, 14, y, 15.5, "#444444", "Liberation Serif", -90))
anns += [note("Randomized sample", 759, 57, 16), note("RX24", 1084, 44, 16, MAGENTA), note("RX1", 1227, 41, 16, BLUE)]
for x, y in [(892, 75), (1137, 266), (1137, 426), (1137, 578)]:
    anns.append(note("p(KS test)<0.001", x, y, 16))

fig.update_layout(width=W, height=H, margin=dict(l=0, r=0, t=0, b=0, autoexpand=False),
                  paper_bgcolor="white", plot_bgcolor="white",
                  showlegend=False, annotations=anns, **layout)
fig.write_html("out.html", config={"displayModeBar": False},
               post_script="document.body.style.margin='0';document.documentElement.style.overflow='hidden';")
